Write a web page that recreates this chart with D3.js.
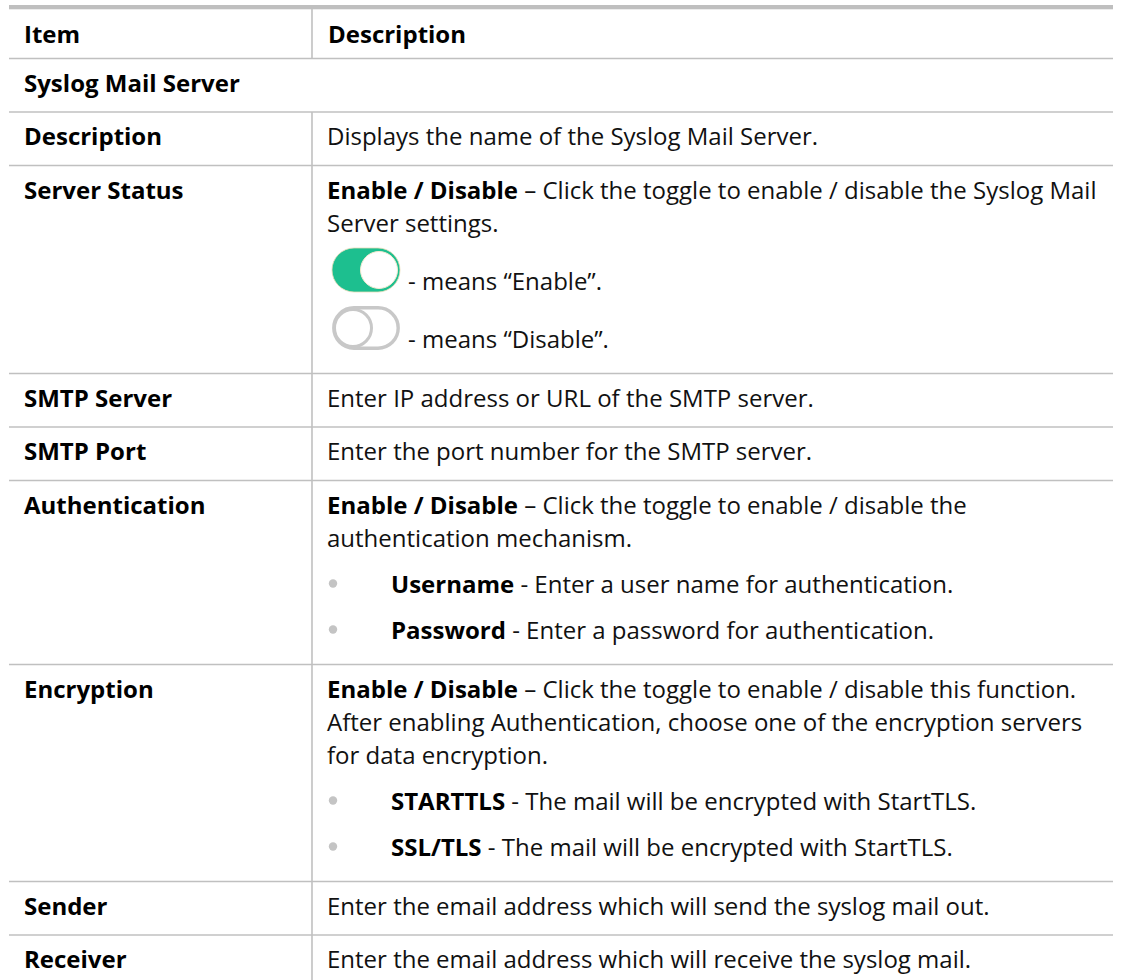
<!DOCTYPE html>
<html>
<head>
<meta charset="utf-8">
<script src="https://cdn.jsdelivr.net/npm/d3@7"></script>
<style>
  html, body { margin: 0; padding: 0; background: #fff; overflow: hidden; }
  svg { display: block; }
  text { font-family: "Open Sans", sans-serif; font-size: 24px; fill: #111; }
</style>
</head>
<body>
<script>
// ---- Table content ----
const headers = ["Item", "Description"];
const sectionTitle = "Syslog Mail Server";
const items = ["Description", "Server Status", "SMTP Server", "SMTP Port",
               "Authentication", "Encryption", "Sender", "Receiver"];
// each description: list of lines; kind: text | toggleOn | toggleOff | bullet ; **bold**
const descriptions = [
  [["text", "Displays the name of the Syslog Mail Server."]],
  [["text", "**Enable / Disable** – Click the toggle to enable / disable the Syslog Mail"],
   ["text", "Server settings."],
   ["toggleOn", "- means “Enable”."],
   ["toggleOff", "- means “Disable”."]],
  [["text", "Enter IP address or URL of the SMTP server."]],
  [["text", "Enter the port number for the SMTP server."]],
  [["text", "**Enable / Disable** – Click the toggle to enable / disable the"],
   ["text", "authentication mechanism."],
   ["bullet", "**Username** - Enter a user name for authentication."],
   ["bullet", "**Password** - Enter a password for authentication."]],
  [["text", "**Enable / Disable** – Click the toggle to enable / disable this function."],
   ["text", "After enabling Authentication, choose one of the encryption servers"],
   ["text", "for data encryption."],
   ["bullet", "**STARTTLS** - The mail will be encrypted with StartTLS."],
   ["bullet", "**SSL/TLS** - The mail will be encrypted with StartTLS."]],
  [["text", "Enter the email address which will send the syslog mail out."]],
  [["text", "Enter the email address which will receive the syslog mail."]]
];

// ---- Layout ----
const W = 1122, H = 980;
const x0 = 9, x1 = 1113, xDiv = 312;
const xLeft = 24, xRight = 327, xBullet = 333, xBulletText = 391;
const lineColor = "#c0c0c0";
const firstBase = 33, textAdv = 33, bulletAdv = 46, toggleAdv = 58;
const padSingle = 20.5, padMulti = 26;

const svg = d3.select("body").append("svg").attr("width", W).attr("height", H);

function parseRuns(s) {
  return s.split("**").map((t, i) => ({ t, b: i % 2 === 1 })).filter(r => r.t.length);
}
function drawRuns(g, x, y, s, boldFirst) {
  const t = g.append("text").attr("x", x).attr("y", y);
  t.selectAll("tspan").data(parseRuns(s)).join("tspan")
    .attr("font-weight", d => (d.b || boldFirst) ? 700 : 400)
    .attr("fill", d => (d.b || boldFirst) ? "#000" : "#111")
    .text(d => d.t);
  return t;
}

// compute rows
let yCur = 112;
const rows = items.map((name, i) => {
  const lines = descriptions[i];
  let base = yCur + firstBase;
  const placed = lines.map((ln, j) => {
    if (j > 0) {
      base += ln[0] === "text" ? textAdv : (ln[0] === "bullet" ? bulletAdv : toggleAdv);
    }
    return { kind: ln[0], s: ln[1], base };
  });
  const multi = lines.some(l => l[0] !== "text");
  const top = yCur;
  const bottom = base + (multi ? padMulti : padSingle);
  yCur = bottom;
  return { name, top, bottom, lines: placed };
});

// grid lines
const g = svg.append("g");
g.append("rect").attr("x", x0).attr("y", 5).attr("width", x1 - x0).attr("height", 4.3).attr("fill", "#bfbfbf");
const hLines = [58.5, 112].concat(rows.map(r => r.bottom));
g.selectAll("line.h").data(hLines).join("line").attr("class", "h")
  .attr("x1", x0).attr("x2", x1).attr("y1", d => d).attr("y2", d => d)
  .attr("stroke", lineColor).attr("stroke-width", 1.6);
// vertical divider: header and body (not section row)
g.append("line").attr("x1", xDiv).attr("x2", xDiv).attr("y1", 9).attr("y2", 58.5)
  .attr("stroke", lineColor).attr("stroke-width", 1.6);
g.append("line").attr("x1", xDiv).attr("x2", xDiv).attr("y1", 112).attr("y2", rows[rows.length - 1].bottom)
  .attr("stroke", lineColor).attr("stroke-width", 1.6);

// header
drawRuns(svg, xLeft, 43, headers[0], true);
drawRuns(svg, xRight + 1, 43, headers[1], true);
// section title
drawRuns(svg, xLeft, 92, sectionTitle, true);

// rows
const rg = svg.selectAll("g.row").data(rows).join("g").attr("class", "row");
rg.each(function(r) {
  const sel = d3.select(this);
  drawRuns(sel, xLeft, r.top + firstBase, r.name, true);
  r.lines.forEach(ln => {
    if (ln.kind === "text") {
      drawRuns(sel, xRight, ln.base, ln.s, false);
    } else if (ln.kind === "bullet") {
      sel.append("circle").attr("cx", xBullet).attr("cy", ln.base - 9).attr("r", 4.2).attr("fill", "#c4c4c4");
      drawRuns(sel, xBulletText, ln.base, ln.s, false);
    } else {
      const on = ln.kind === "toggleOn";
      const ty = ln.base - 41.5, tw = 68, th = 44, tx = 332;
      if (on) {
        sel.append("rect").attr("x", tx).attr("y", ty).attr("width", tw).attr("height", th)
          .attr("rx", th / 2).attr("fill", "#1dbf8f").attr("stroke", "#e9dcb8").attr("stroke-width", 0.8);
        sel.append("circle").attr("cx", tx + tw - 21).attr("cy", ty + th / 2).attr("r", 18.5)
          .attr("fill", "#fff").attr("stroke", "#f3ead0").attr("stroke-width", 1);
      } else {
        sel.append("rect").attr("x", tx + 1.8).attr("y", ty + 1.8).attr("width", tw - 3.6).attr("height", th - 3.6)
          .attr("rx", (th - 3.6) / 2).attr("fill", "#fff").attr("stroke", "#c8c8c8").attr("stroke-width", 3.4);
        sel.append("circle").attr("cx", tx + 21).attr("cy", ty + th / 2).attr("r", 18.5)
          .attr("fill", "#fff").attr("stroke", "#c8c8c8").attr("stroke-width", 3);
      }
      drawRuns(sel, 408, ln.base, ln.s, false);
    }
  });
});
</script>
</body>
</html>
